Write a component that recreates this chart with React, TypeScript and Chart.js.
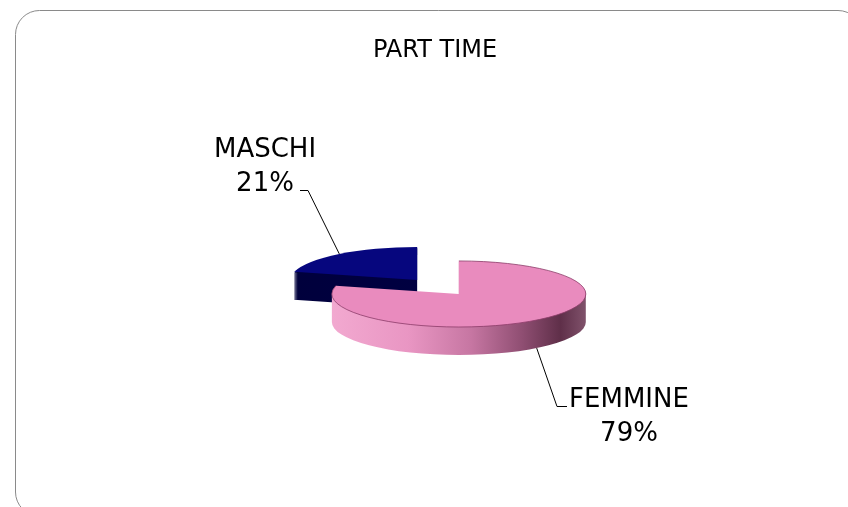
import { useEffect, useRef } from "react";
import { Chart, registerables } from "chart.js";

Chart.register(...registerables);

// ---- data ----
const CATEGORIES = ["MASCHI", "FEMMINE"];
const VALUES = [21, 79];
const TITLE = "PART TIME";

// ---- style ----
const TOP_COLORS = ["#06067E", "#E98BBE"];
const SIDE_STOPS: [number, string][][] = [
  [[0, "#00003C"], [1, "#000046"]],
  [
    [0, "#F2A9D0"],
    [0.3, "#E996C3"],
    [0.55, "#C676A2"],
    [0.75, "#8F4E72"],
    [0.9, "#5F2F49"],
    [1, "#80526B"],
  ],
];
const OFFSETS = [34, 34];
const PIE_CX = 438;
const PIE_CY = 287;
const SQUASH = 0.26;
const DEPTH = 28;
const RADIUS = 127;
const FONT = '"DejaVu Sans", sans-serif';
const LABEL_POS = [
  { x: 265, y1: 157, y2: 191 },
  { x: 629, y1: 407, y2: 441 },
];

const pie3d = {
  id: "pie3d",
  beforeDraw(chart: any) {
    const ctx = chart.ctx;
    ctx.save();
    const l = 15.5, t = 10.5, r = 862, b = 516, rad = 24;
    ctx.beginPath();
    ctx.moveTo(l + rad, t);
    ctx.lineTo(r - rad, t);
    ctx.arcTo(r, t, r, t + rad, rad);
    ctx.lineTo(r, b - rad);
    ctx.arcTo(r, b, r - rad, b, rad);
    ctx.lineTo(l + rad, b);
    ctx.arcTo(l, b, l, b - rad, rad);
    ctx.lineTo(l, t + rad);
    ctx.arcTo(l, t, l + rad, t, rad);
    ctx.closePath();
    ctx.strokeStyle = "#8A8A8A";
    ctx.lineWidth = 1;
    ctx.stroke();
    ctx.restore();
  },
  beforeDatasetsDraw(chart: any) {
    const ctx = chart.ctx;
    const meta = chart.getDatasetMeta(0);
    meta.data.forEach((el: any, i: number) => {
      const { x, y, startAngle, endAngle, outerRadius } = el.getProps(
        ["x", "y", "startAngle", "endAngle", "outerRadius"],
        true
      );
      const off = el.options.offset || 0;
      const mid = (startAngle + endAngle) / 2;
      const cx = x + Math.cos(mid) * off;
      const cy = y + Math.sin(mid) * off;
      const tx = PIE_CX - x;
      const ty = PIE_CY - SQUASH * y;
      const build = (d: number) => {
        ctx.save();
        ctx.translate(tx, ty + d);
        ctx.scale(1, SQUASH);
        ctx.moveTo(cx, cy);
        ctx.arc(cx, cy, outerRadius, startAngle, endAngle);
        ctx.closePath();
        ctx.restore();
      };
      // side walls
      ctx.save();
      ctx.beginPath();
      for (let d = DEPTH; d >= 1; d -= 0.5) build(d);
      const g = ctx.createLinearGradient(cx + tx - outerRadius, 0, cx + tx + outerRadius, 0);
      SIDE_STOPS[i].forEach(([p, c]) => g.addColorStop(p, c));
      ctx.fillStyle = g;
      ctx.fill();
      // top face
      ctx.beginPath();
      build(0);
      ctx.fillStyle = el.options.backgroundColor;
      ctx.fill();
      if (i === 1) {
        ctx.strokeStyle = "rgba(140,60,105,0.8)";
        ctx.lineWidth = 1;
        ctx.beginPath();
        ctx.save();
        ctx.translate(tx, ty);
        ctx.scale(1, SQUASH);
        ctx.arc(cx, cy, outerRadius, startAngle, endAngle);
        ctx.restore();
        ctx.stroke();
      }
      ctx.restore();
    });
    return false;
  },
  afterDraw(chart: any) {
    const ctx = chart.ctx;
    const meta = chart.getDatasetMeta(0);
    const data = chart.data.datasets[0].data as number[];
    const total = data.reduce((a, v) => a + v, 0);
    ctx.save();
    ctx.font = `26px ${FONT}`;
    ctx.fillStyle = "#000";
    ctx.textAlign = "center";
    ctx.textBaseline = "alphabetic";
    meta.data.forEach((el: any, i: number) => {
      const { x, y, startAngle, endAngle, outerRadius } = el.getProps(
        ["x", "y", "startAngle", "endAngle", "outerRadius"],
        true
      );
      const off = el.options.offset || 0;
      const mid = (startAngle + endAngle) / 2;
      const cx = x + Math.cos(mid) * off;
      const cy = y + Math.sin(mid) * off;
      const tx = PIE_CX - x;
      const ty = PIE_CY - SQUASH * y;
      const px = cx + Math.cos(mid) * outerRadius + tx;
      let py = ty + SQUASH * (cy + Math.sin(mid) * outerRadius);
      if (Math.sin(mid) > 0) py += DEPTH;
      const pos = LABEL_POS[i];
      ctx.fillText(String(chart.data.labels[i]), pos.x, pos.y1);
      ctx.fillText(Math.round((data[i] / total) * 100) + "%", pos.x, pos.y2);
      ctx.strokeStyle = "#000";
      ctx.lineWidth = 1;
      ctx.beginPath();
      if (i === 0) {
        ctx.moveTo(300, 190.5);
        ctx.lineTo(308, 190.5);
        ctx.lineTo(px, py);
      } else {
        ctx.moveTo(px, py);
        ctx.lineTo(557, 406.5);
        ctx.lineTo(567, 406.5);
      }
      ctx.stroke();
    });
    ctx.restore();
  },
};

export default function App() {
  const ref = useRef<HTMLCanvasElement>(null);
  useEffect(() => {
    if (!ref.current) return;
    const total = VALUES.reduce((a, v) => a + v, 0);
    const chart = new Chart(ref.current, {
      type: "pie",
      data: {
        labels: CATEGORIES,
        datasets: [
          {
            data: VALUES,
            backgroundColor: TOP_COLORS,
            offset: OFFSETS,
            borderWidth: 0,
            clip: false as any,
          },
        ],
      },
      options: {
        animation: false,
        responsive: false,
        radius: RADIUS,
        rotation: (-360 * VALUES[0]) / total,
        layout: { padding: { left: 22, top: 10, right: 0, bottom: 0 } },
        plugins: {
          legend: { display: false },
          tooltip: { enabled: false },
          title: {
            display: true,
            text: TITLE,
            color: "#000",
            font: { family: FONT, size: 24, weight: "normal" },
            padding: { top: 26, bottom: 0 },
          },
        },
      } as any,
      plugins: [pie3d],
    });
    return () => chart.destroy();
  }, []);
  return (
    <div style={{ position: "fixed", left: 0, top: 0, width: 848, height: 507, background: "#fff" }}>
      <canvas ref={ref} width={848} height={507} style={{ display: "block" }} />
    </div>
  );
}
